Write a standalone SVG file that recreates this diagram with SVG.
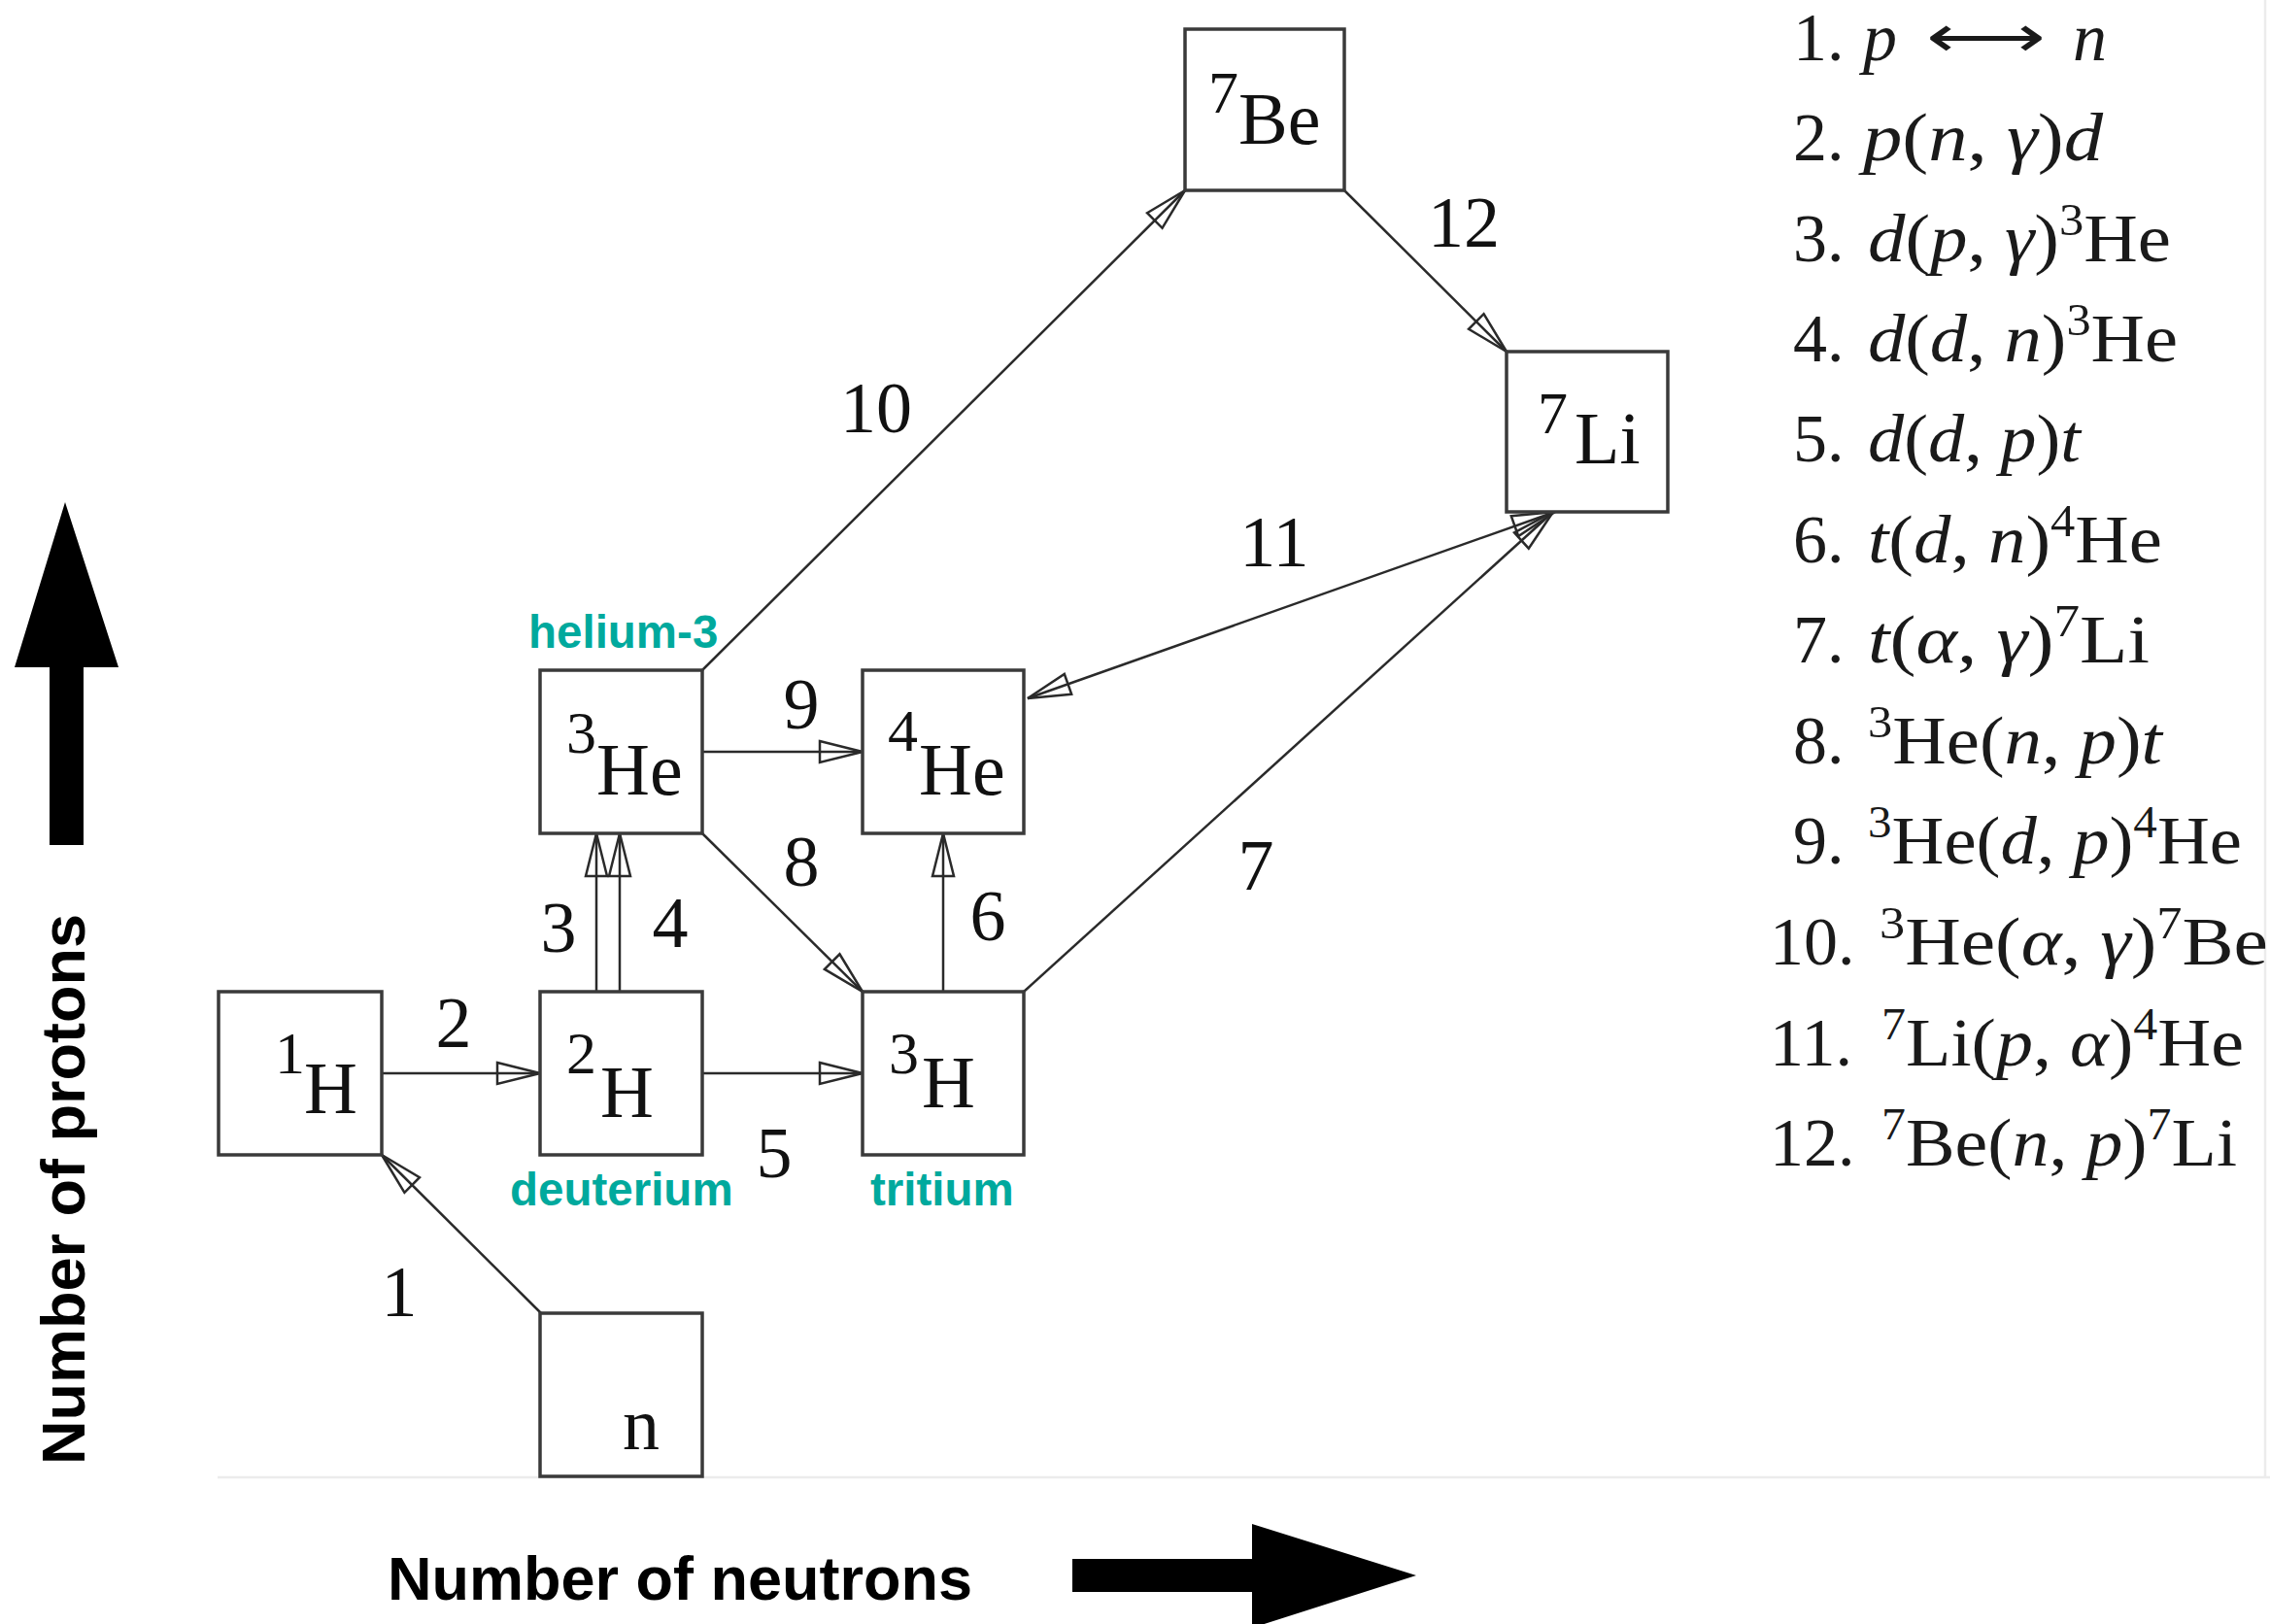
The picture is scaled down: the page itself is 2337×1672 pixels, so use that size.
<svg xmlns="http://www.w3.org/2000/svg" width="2337" height="1672" viewBox="0 0 2337 1672">
<style>
.node rect{fill:#fff;stroke:#3a3a3a;stroke-width:3.5}
.sym{font-family:"Liberation Serif","Times New Roman",serif;font-size:76px;fill:#111}
.mass{font-size:62px}
.lbl{font-family:"Liberation Serif","Times New Roman",serif;font-size:74px;fill:#111;text-anchor:middle}
.teal{font-family:"Liberation Sans",Arial,sans-serif;font-weight:bold;font-size:47.5px;fill:#00A99D}
.axis{font-family:"Liberation Sans",Arial,sans-serif;font-weight:bold;font-size:63px;fill:#000}
.leg{font-family:"Liberation Serif","Times New Roman",serif;font-size:70px;fill:#1a1a1a}
.i{font-style:italic}
.sup{font-size:46px}
.conn path{fill:none;stroke:#2a2a2a;stroke-width:2.5}
.guide{stroke:#ececec;stroke-width:2.5}
</style>
<defs>
<marker id="oa" markerUnits="userSpaceOnUse" viewBox="0 0 48 26" markerWidth="48" markerHeight="26" refX="46" refY="13" orient="auto-start-reverse">
<path d="M2,2 L46,13 L2,24 Z" fill="none" stroke="#2a2a2a" stroke-width="2.5" stroke-linejoin="miter"/>
</marker>
</defs>
<rect width="2337" height="1672" fill="#fff"/>
<line class="guide" x1="224" y1="1521" x2="2337" y2="1521"/>
<line class="guide" x1="2332" y1="0" x2="2332" y2="1521"/>

<g id="connectors" class="conn">
<path d="M557,1352 L393,1189" marker-end="url(#oa)"/>
<path d="M393,1105 L556,1105" marker-end="url(#oa)"/>
<path d="M723,1105 L888,1105" marker-end="url(#oa)"/>
<path d="M614,1021 L614,858" marker-end="url(#oa)"/>
<path d="M638,1021 L638,858" marker-end="url(#oa)"/>
<path d="M723,774 L888,774" marker-end="url(#oa)"/>
<path d="M971,1021 L971,858" marker-end="url(#oa)"/>
<path d="M723,858 L888,1021" marker-end="url(#oa)"/>
<path d="M723,690 L1220,196" marker-end="url(#oa)"/>
<path d="M1384,196 L1551,362" marker-end="url(#oa)"/>
<path d="M1054,1021 L1599,527" marker-end="url(#oa)"/>
<path d="M1058,719 L1601,527" marker-start="url(#oa)" marker-end="url(#oa)"/>
</g>

<g id="n" class="node"><rect x="556" y="1352" width="167" height="168"/><text class="sym" x="641" y="1492">n</text></g>
<g id="H1" class="node"><rect x="225" y="1021" width="168" height="168"/><text class="sym"><tspan class="mass" x="283" y="1105">1</tspan><tspan x="313" y="1146">H</tspan></text></g>
<g id="H2" class="node"><rect x="556" y="1021" width="167" height="168"/><text class="sym"><tspan class="mass" x="583" y="1105">2</tspan><tspan x="618" y="1150">H</tspan></text></g>
<g id="H3" class="node"><rect x="888" y="1021" width="166" height="168"/><text class="sym"><tspan class="mass" x="915" y="1105">3</tspan><tspan x="949" y="1140">H</tspan></text></g>
<g id="He3" class="node"><rect x="556" y="690" width="167" height="168"/><text class="sym"><tspan class="mass" x="583" y="775">3</tspan><tspan x="614" y="818">He</tspan></text></g>
<g id="He4" class="node"><rect x="888" y="690" width="166" height="168"/><text class="sym"><tspan class="mass" x="914" y="773">4</tspan><tspan x="946" y="818">He</tspan></text></g>
<g id="Be7" class="node"><rect x="1220" y="30" width="164" height="166"/><text class="sym"><tspan class="mass" x="1244" y="116">7</tspan><tspan x="1275" y="148">Be</tspan></text></g>
<g id="Li7" class="node"><rect x="1551" y="362" width="166" height="165"/><text class="sym"><tspan class="mass" x="1583" y="446">7</tspan><tspan x="1621" y="477">Li</tspan></text></g>

<g id="reaction-labels" class="lbl">
<text x="411" y="1355">1</text>
<text x="467" y="1078">2</text>
<text x="575" y="980">3</text>
<text x="690" y="975">4</text>
<text x="797" y="1212">5</text>
<text x="1017" y="968">6</text>
<text x="1293" y="916">7</text>
<text x="825" y="912">8</text>
<text x="825" y="750">9</text>
<text x="902" y="445">10</text>
<text x="1312" y="583">11</text>
<text x="1507" y="254">12</text>
</g>

<g id="names" class="teal">
<text x="544" y="667">helium-3</text>
<text x="525" y="1241">deuterium</text>
<text x="896" y="1241">tritium</text>
</g>

<g id="axes">
<polygon points="67,517 122,687 86,687 86,870 51,870 51,687 15,687" fill="#000"/>
<text class="axis" transform="translate(87,1508) rotate(-90)">Number of protons</text>
<polygon points="1104,1605 1289,1605 1289,1569 1458,1622 1289,1676 1289,1639 1104,1639" fill="#000"/>
<text class="axis" x="399" y="1647">Number of neutrons</text>
</g>

<g id="legend" class="leg">
<text x="1846" y="62">1.</text>
<text x="1918" y="62" class="i">p</text>
<text x="1983" y="58" font-family="DejaVu Sans" font-size="60" textLength="123" lengthAdjust="spacingAndGlyphs">⟷</text>
<text x="2134" y="62" class="i">n</text>

<text x="1846" y="165">2.</text>
<text x="1918" y="165" textLength="247" lengthAdjust="spacingAndGlyphs"><tspan class="i">p</tspan>(<tspan class="i">n</tspan>, <tspan class="i">γ</tspan>)<tspan class="i">d</tspan></text>

<text x="1846" y="269">3.</text>
<text x="1923" y="269" textLength="312" lengthAdjust="spacingAndGlyphs"><tspan class="i">d</tspan>(<tspan class="i">p</tspan>, <tspan class="i">γ</tspan>)<tspan class="sup" dy="-27">3</tspan><tspan dy="27">He</tspan></text>

<text x="1846" y="372">4.</text>
<text x="1923" y="372" textLength="319" lengthAdjust="spacingAndGlyphs"><tspan class="i">d</tspan>(<tspan class="i">d</tspan>, <tspan class="i">n</tspan>)<tspan class="sup" dy="-27">3</tspan><tspan dy="27">He</tspan></text>

<text x="1846" y="475">5.</text>
<text x="1923" y="475" textLength="219" lengthAdjust="spacingAndGlyphs"><tspan class="i">d</tspan>(<tspan class="i">d</tspan>, <tspan class="i">p</tspan>)<tspan class="i">t</tspan></text>

<text x="1846" y="579">6.</text>
<text x="1923" y="579" textLength="303" lengthAdjust="spacingAndGlyphs"><tspan class="i">t</tspan>(<tspan class="i">d</tspan>, <tspan class="i">n</tspan>)<tspan class="sup" dy="-27">4</tspan><tspan dy="27">He</tspan></text>

<text x="1846" y="682">7.</text>
<text x="1923" y="682" textLength="290" lengthAdjust="spacingAndGlyphs"><tspan class="i">t</tspan>(<tspan class="i">α</tspan>, <tspan class="i">γ</tspan>)<tspan class="sup" dy="-27">7</tspan><tspan dy="27">Li</tspan></text>

<text x="1846" y="786">8.</text>
<text x="1923" y="786" textLength="303" lengthAdjust="spacingAndGlyphs"><tspan class="sup" dy="-27">3</tspan><tspan dy="27">He(</tspan><tspan class="i">n</tspan>, <tspan class="i">p</tspan>)<tspan class="i">t</tspan></text>

<text x="1846" y="889">9.</text>
<text x="1923" y="889" textLength="385" lengthAdjust="spacingAndGlyphs"><tspan class="sup" dy="-27">3</tspan><tspan dy="27">He(</tspan><tspan class="i">d</tspan>, <tspan class="i">p</tspan>)<tspan class="sup" dy="-27">4</tspan><tspan dy="27">He</tspan></text>

<text x="1822" y="993">10.</text>
<text x="1935" y="993" textLength="400" lengthAdjust="spacingAndGlyphs"><tspan class="sup" dy="-27">3</tspan><tspan dy="27">He(</tspan><tspan class="i">α</tspan>, <tspan class="i">γ</tspan>)<tspan class="sup" dy="-27">7</tspan><tspan dy="27">Be</tspan></text>

<text x="1822" y="1097">11.</text>
<text x="1937" y="1097" textLength="373" lengthAdjust="spacingAndGlyphs"><tspan class="sup" dy="-27">7</tspan><tspan dy="27">Li(</tspan><tspan class="i">p</tspan>, <tspan class="i">α</tspan>)<tspan class="sup" dy="-27">4</tspan><tspan dy="27">He</tspan></text>

<text x="1822" y="1200">12.</text>
<text x="1937" y="1200" textLength="366" lengthAdjust="spacingAndGlyphs"><tspan class="sup" dy="-27">7</tspan><tspan dy="27">Be(</tspan><tspan class="i">n</tspan>, <tspan class="i">p</tspan>)<tspan class="sup" dy="-27">7</tspan><tspan dy="27">Li</tspan></text>
</g>
</svg>
